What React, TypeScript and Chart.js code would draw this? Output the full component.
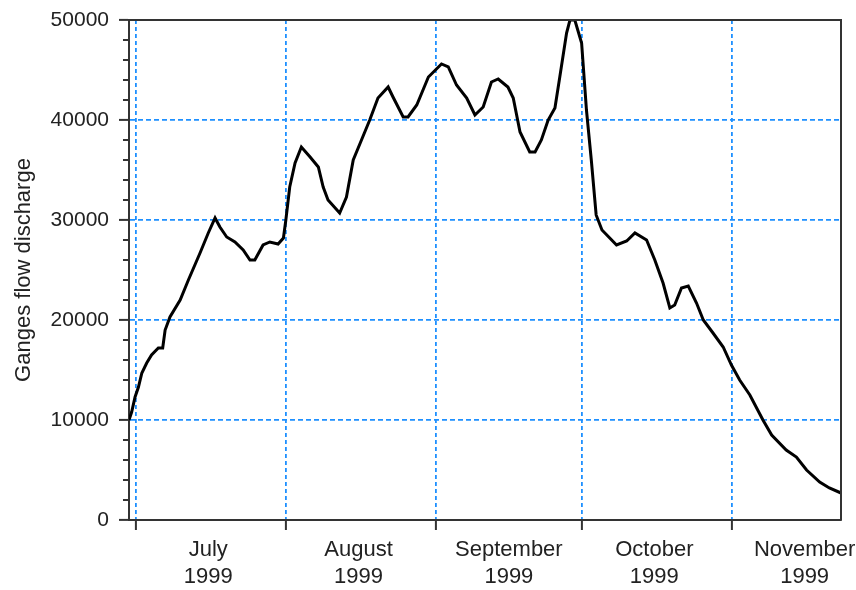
import React, { useEffect, useRef } from "react";
import { Chart, registerables } from "chart.js";

Chart.register(...registerables);

// Day offsets counted from 1 July 1999 (0 = July 1)
const dayOffsets = [
  -1.35, -0.8, -0.1, 0.6, 1.3, 2.3, 3.3, 4.7, 5.6, 6.1, 7.1, 9.2, 10.9, 13.3, 15.0,
  16.4, 17.4, 18.8, 20.5, 22.2, 23.6, 24.6, 26.3, 27.7, 29.4, 30.5, 31.0, 31.8, 32.9,
  34.2, 36.0, 37.7, 38.7, 39.7, 42.1, 43.5, 44.9, 46.6, 48.3, 50.0, 52.1, 53.1, 55.2,
  56.2, 58.0, 60.4, 63.1, 64.5, 66.2, 68.3, 70.0, 71.7, 73.4, 74.8, 76.8, 77.9, 79.3,
  81.3, 82.4, 83.7, 85.1, 86.5, 87.5, 88.9, 89.6, 90.6, 92.0, 93.0, 94.0, 95.0, 96.2,
  99.2, 101.3, 103.0, 105.4, 107.1, 108.8, 110.2, 111.2, 112.6, 114.0, 115.7, 117.1,
  119.1, 121.2, 122.9, 124.6, 126.7, 129.4, 131.2, 134.2, 136.3, 138.4, 141.1, 143.1,
  145.5,
];

const discharge = [
  10000, 10800, 12300, 13300, 14700, 15700, 16500, 17200, 17200, 19000, 20300, 22000,
  24000, 26700, 28700, 30200, 29300, 28300, 27800, 27000, 26000, 26000, 27500, 27800,
  27600, 28200, 30000, 33300, 35700, 37300, 36300, 35300, 33300, 32000, 30700, 32300,
  36000, 38000, 40000, 42200, 43300, 42300, 40300, 40300, 41500, 44300, 45600, 45300,
  43500, 42200, 40500, 41300, 43800, 44100, 43300, 42200, 38800, 36800, 36800, 38000,
  40000, 41200, 44300, 48700, 50000, 50000, 47700, 41000, 36000, 30500, 29000, 27500,
  27900, 28700, 28000, 26000, 23700, 21200, 21500, 23200, 23400, 21700, 20000, 18700,
  17300, 15500, 14000, 12500, 10000, 8500, 7000, 6300, 5000, 3800, 3200, 2700,
];

const monthStarts = [0, 31, 62, 92, 123];
const monthNames = ["July", "August", "September", "October", "November"];
const yearLabel = "1999";
const yMajorTicks = [0, 10000, 20000, 30000, 40000, 50000];
const yMinorStep = 2000;
const xMin = -1.35;
const xMax = 145.5;
const yTitle = "Ganges flow discharge";

const FONT = '"Liberation Sans", Arial, sans-serif';
const GRID_BLUE = "#1e90ff";
const AXIS = "#333333";

export default function App() {
  const ref = useRef<HTMLCanvasElement>(null);

  useEffect(() => {
    const canvas = ref.current;
    if (!canvas) return;
    const points = dayOffsets.map((d, i) => ({ x: d, y: discharge[i] }));
    const labelPositions = monthStarts.map((m) => m + 15);
    const xTickVals = [...monthStarts, ...labelPositions].sort((a, b) => a - b);

    const frame = {
      id: "frame",
      afterDraw(chart: any) {
        const { ctx, chartArea } = chart;
        const ys = chart.scales.y;
        ctx.save();
        ctx.strokeStyle = AXIS;
        ctx.lineWidth = 2;
        ctx.setLineDash([]);
        ctx.beginPath();
        ctx.moveTo(chartArea.left, chartArea.top);
        ctx.lineTo(chartArea.right, chartArea.top);
        ctx.lineTo(chartArea.right, chartArea.bottom);
        ctx.stroke();
        // minor y ticks
        for (let v = yMinorStep; v < 50000; v += yMinorStep) {
          if (v % 10000 === 0) continue;
          const y = Math.round(ys.getPixelForValue(v));
          ctx.beginPath();
          ctx.moveTo(chartArea.left - 6, y);
          ctx.lineTo(chartArea.left, y);
          ctx.stroke();
        }
        ctx.restore();
      },
    };

    const chart = new Chart(canvas, {
      type: "line",
      data: {
        datasets: [
          {
            data: points,
            borderColor: "#000000",
            borderWidth: 3,
            pointRadius: 0,
            tension: 0,
            fill: false,
          },
        ],
      },
      options: {
        responsive: false,
        animation: false,
        maintainAspectRatio: false,
        layout: { padding: { top: 20, right: 15, left: 0, bottom: 0 } },
        plugins: { legend: { display: false }, tooltip: { enabled: false } },
        scales: {
          x: {
            type: "linear",
            min: xMin,
            max: xMax,
            afterBuildTicks: (s: any) => {
              s.ticks = xTickVals.map((v) => ({ value: v }));
            },
            afterFit: (s: any) => {
              s.height = 70;
              s.paddingLeft = 0;
              s.paddingRight = 0;
            },
            ticks: {
              autoSkip: false,
              maxRotation: 0,
              minRotation: 0,
              padding: 7,
              color: "#222",
              font: { family: FONT, size: 22, lineHeight: 1.2 },
              callback: (v: any) => {
                const i = monthStarts.indexOf(Number(v) - 15);
                return i >= 0 ? [monthNames[i], yearLabel] : "";
              },
            },
            grid: {
              color: (c: any) =>
                c.tick && monthStarts.includes(c.tick.value) ? GRID_BLUE : "rgba(0,0,0,0)",
              lineWidth: 1.8,
              tickLength: 10,
              tickWidth: 2,
              tickColor: (c: any) =>
                c.tick && monthStarts.includes(c.tick.value) ? AXIS : "rgba(0,0,0,0)",
            },
            border: { display: true, color: AXIS, width: 2, dash: [4, 3] },
          },
          y: {
            type: "linear",
            min: 0,
            max: 50000,
            afterBuildTicks: (s: any) => {
              s.ticks = yMajorTicks.map((v) => ({ value: v }));
            },
            afterFit: (s: any) => {
              s.width = 129;
              s.paddingTop = 0;
              s.paddingBottom = 0;
            },
            ticks: {
              padding: 10,
              color: "#222",
              font: { family: FONT, size: 21 },
              callback: (v: any) => String(v),
            },
            grid: {
              color: (c: any) =>
                c.tick && c.tick.value > 0 && c.tick.value < 50000 ? GRID_BLUE : "rgba(0,0,0,0)",
              lineWidth: 1.8,
              tickLength: 10,
              tickWidth: 2,
              tickColor: AXIS,
            },
            border: { display: true, color: AXIS, width: 2, dash: [5, 3] },
            title: {
              display: true,
              text: yTitle,
              color: "#222",
              font: { family: FONT, size: 22 },
              padding: { top: 11, bottom: 0 },
            },
          },
        },
      },
      plugins: [frame],
    } as any);

    return () => chart.destroy();
  }, []);

  return (
    <div
      style={{
        position: "fixed",
        left: 0,
        top: 0,
        width: 856,
        height: 590,
        background: "#ffffff",
      }}
    >
      <canvas
        ref={ref}
        width={856}
        height={590}
        style={{ width: 856, height: 590, display: "block" }}
      />
    </div>
  );
}
